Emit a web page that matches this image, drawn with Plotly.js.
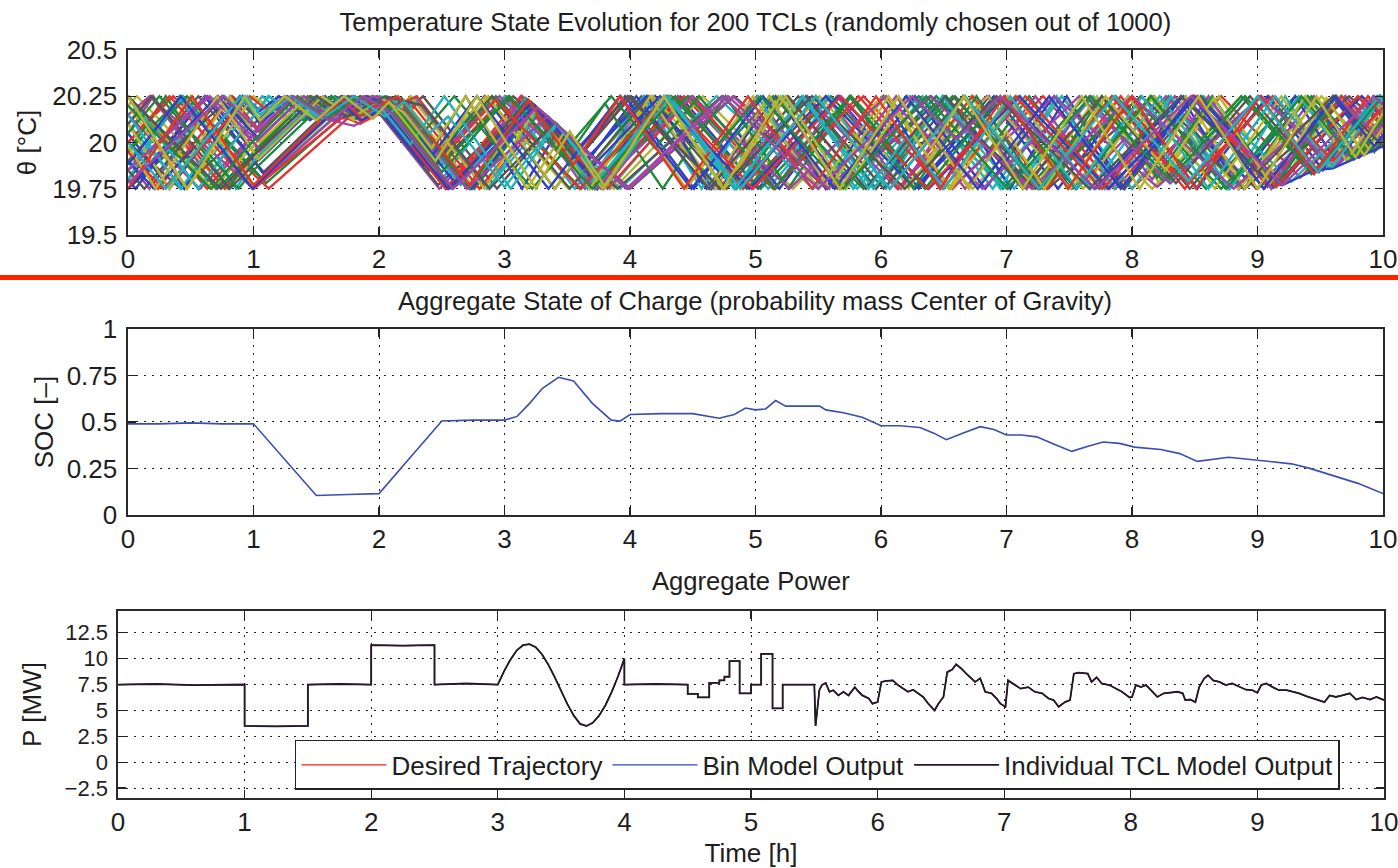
<!DOCTYPE html>
<html>
<head>
<meta charset="utf-8">
<script src="https://cdn.plot.ly/plotly-3.0.1.min.js"></script>
<style>
html,body{margin:0;padding:0;background:#fff;}
#chart{width:1398px;height:868px;}
</style>
</head>
<body>
<div id="chart"></div>
<script>
// ---------- tick labels ----------
const timeTicks = [0,1,2,3,4,5,6,7,8,9,10];
const tempTicks = [19.5,19.75,20,20.25,20.5];
const tempTickText = ['19.5','19.75','20','20.25','20.5'];
const socTicks = [0,0.25,0.5,0.75,1];
const socTickText = ['0','0.25','0.5','0.75','1'];
const powerTicks = [-2.5,0,2.5,5,7.5,10,12.5];
const powerTickText = ['\u22122.5','0','2.5','5','7.5','10','12.5'];

// ---------- TCL temperature trajectories (turning points: time h / temperature °C) ----------
const tcl01t=[0,0.63,1.05,1.57,1.75,2.0,2.55,3.16,3.77,4.4,5.02,5.65,6.27,6.9,7.52,8.15,8.77,9.4,9.81,10];
const tcl01v=[19.75,20.25,19.91,20.25,20.13,20.22,19.75,20.24,19.75,20.25,19.75,20.25,19.75,20.25,19.75,20.25,19.75,20.25,19.92,20.07];
const tcl02t=[0,0.56,1.12,1.4,1.65,1.85,2.05,2.12,2.18,2.76,3.25,3.74,4.3,4.85,5.41,5.96,6.52,6.85,7.18,7.74,8.29,8.85,9.4,9.77,10];
const tcl02v=[20.25,19.75,20.25,20.12,20.25,20.15,20.24,20.19,20.24,19.75,20.19,19.75,20.25,19.75,20.25,19.75,20.25,19.95,20.25,19.75,20.25,19.75,20.25,19.91,20.12];
const tcl03t=[0,0.36,1.12,1.75,1.85,2.05,2.45,3.01,3.72,4.43,5.14,5.86,6.57,7.29,8.0,8.71,9.34,9.97,10];
const tcl03v=[20.0,20.25,19.75,20.13,20.1,20.2,19.86,20.25,19.75,20.25,19.75,20.25,19.75,20.25,19.75,20.25,19.81,20.25,20.23];
const tcl04t=[0,0.44,1.07,1.3,1.5,1.75,2.0,2.1,2.2,2.3,2.86,3.35,3.84,4.47,5.1,5.45,5.81,6.44,7.06,7.69,8.31,8.9,9.43,9.95,10];
const tcl04v=[20.1,19.75,20.25,20.12,20.25,20.15,20.25,20.24,20.17,20.23,19.75,20.14,19.75,20.25,19.75,20.03,19.75,20.25,19.75,20.25,19.78,20.25,19.83,20.25,20.21];
const tcl05t=[0,0.17,0.72,1.05,1.51,1.7,1.95,2.05,2.15,2.73,3.23,3.73,4.29,4.65,5.01,5.56,6.12,6.67,7.23,7.78,8.34,8.89,9.45,9.81,10];
const tcl05v=[19.9,19.75,20.25,19.95,20.25,20.14,20.25,20.18,20.24,19.75,20.2,19.75,20.25,19.93,20.25,19.75,20.25,19.75,20.25,19.75,20.25,19.75,20.25,19.92,20.09];
const tcl06t=[0,0.07,0.78,1.5,1.8,2.0,2.53,3.2,3.87,4.58,5.3,6.01,6.73,7.44,8.16,8.87,9.46,10];
const tcl06v=[20.2,20.25,19.75,20.25,20.12,20.2,19.75,20.22,19.75,20.25,19.75,20.25,19.75,20.25,19.75,20.25,19.84,20.22];
const tcl07t=[0,0.56,1.08,1.71,1.88,2.08,2.2,2.35,2.94,3.39,3.65,4.09,4.71,5.34,5.96,6.59,7.21,7.84,8.46,9.09,9.57,10];
const tcl07v=[19.8,20.25,19.84,20.25,20.16,20.24,20.16,20.25,19.75,20.11,19.9,20.25,19.75,20.25,19.75,20.25,19.75,20.25,19.75,20.25,19.86,20.2];
const tcl08t=[0,0.33,0.89,1.05,1.27,1.55,1.8,2.02,2.4,2.84,3.4,3.96,4.51,4.85,5.19,5.75,6.3,6.86,7.41,7.97,8.52,9.08,9.52,9.96,10];
const tcl08v=[20.05,19.75,20.25,20.11,20.25,20.13,20.25,20.17,19.85,20.25,19.75,20.25,19.75,20.06,19.75,20.25,19.75,20.25,19.75,20.25,19.75,20.25,19.85,20.25,20.21];
const tcl09t=[0,0.43,1.07,1.76,1.92,2.1,2.45,2.9,3.61,4.33,5.04,5.76,6.1,6.44,7.16,7.87,8.59,9.3,9.78,10];
const tcl09v=[19.95,20.25,19.8,20.25,20.18,20.24,19.94,20.25,19.75,20.25,19.75,20.25,20.01,20.25,19.75,20.25,19.75,20.25,19.92,20.07];
const tcl10t=[0,0.63,1.25,1.5,1.72,1.95,2.12,2.22,2.32,2.85,3.33,3.6,4.0,4.63,5.25,5.88,6.5,7.13,7.5,7.87,8.5,9.1,9.7,10];
const tcl10v=[20.25,19.75,20.25,20.13,20.25,20.14,20.22,20.15,20.22,19.77,20.15,19.93,20.25,19.75,20.25,19.75,20.25,19.75,20.05,19.75,20.25,19.77,20.25,20.01];
const tcl11t=[0,0.44,1.0,1.78,1.9,2.03,2.5,3.0,3.56,4.11,4.67,5.22,5.78,6.33,6.89,7.44,8.0,8.55,9.11,9.67,10];
const tcl11v=[19.85,20.25,19.75,20.22,20.15,20.2,19.8,20.25,19.75,20.25,19.75,20.25,19.75,20.25,19.75,20.25,19.75,20.25,19.75,20.25,19.99];
const tcl12t=[0,0.57,1.31,1.55,1.78,2.0,2.48,3.17,3.55,3.99,4.7,5.41,6.13,6.84,7.56,8.27,8.99,9.7,10];
const tcl12v=[20.15,19.75,20.25,20.14,20.25,20.16,19.75,20.23,19.95,20.25,19.75,20.25,19.75,20.25,19.75,20.25,19.75,20.25,20.04];
const tcl13t=[0,0.5,1.0,1.7,1.85,2.05,2.12,2.2,2.75,3.21,3.68,4.18,4.68,5.18,5.68,5.95,6.22,6.72,7.22,7.72,8.22,8.69,9.19,9.66,9.95,10];
const tcl13v=[19.75,20.25,19.75,20.2,20.12,20.22,20.16,20.23,19.76,20.22,19.75,20.25,19.75,20.25,19.75,20.02,19.75,20.25,19.75,20.25,19.78,20.25,19.78,20.25,19.96,20.01];
const tcl14t=[0,0.42,1.25,1.5,1.75,2.02,2.47,3.21,4.0,4.83,5.67,6.5,7.33,8.17,9.0,9.83,10];
const tcl14v=[20.0,19.75,20.25,20.15,20.25,20.15,19.77,20.22,19.75,20.25,19.75,20.25,19.75,20.25,19.75,20.25,20.15];
const tcl15t=[0,0.45,0.91,1.05,1.3,1.55,1.8,2.0,2.35,2.69,3.14,3.44,3.74,4.2,4.65,5.11,5.56,6.02,6.47,6.75,7.03,7.48,7.94,8.39,8.85,9.3,9.64,9.98,10];
const tcl15v=[20.25,19.75,20.25,20.1,20.25,20.12,20.25,20.18,19.88,20.25,19.75,20.08,19.75,20.25,19.75,20.25,19.75,20.25,19.75,20.06,19.75,20.25,19.75,20.25,19.75,20.25,19.88,20.25,20.23];
const tcl16t=[0,0.47,1.1,1.8,1.9,2.12,2.48,2.93,3.6,4.27,4.93,5.6,5.95,6.3,6.97,7.63,8.25,8.87,9.43,10];
const tcl16v=[19.9,20.25,19.78,20.2,20.15,20.22,19.91,20.25,19.75,20.25,19.75,20.25,19.99,20.25,19.75,20.25,19.79,20.25,19.83,20.25];
const tcl17t=[0,0.18,0.77,1.43,1.65,1.9,2.05,2.15,2.25,2.8,3.29,3.79,4.38,4.97,5.56,6.14,6.73,7.32,7.91,8.2,8.5,9.08,9.67,10];
const tcl17v=[20.1,20.25,19.75,20.25,20.12,20.25,20.2,20.14,20.22,19.75,20.17,19.75,20.25,19.75,20.25,19.75,20.25,19.75,20.25,20.0,20.25,19.76,20.25,19.97];
const tcl18t=[0,0.77,1.05,1.35,1.6,1.85,2.08,2.55,3.23,3.92,4.69,5.46,6.23,7.0,7.4,7.8,8.57,9.27,9.98,10];
const tcl18v=[19.75,20.25,20.07,20.25,20.13,20.25,20.16,19.76,20.2,19.75,20.25,19.75,20.25,19.75,20.01,19.75,20.25,19.79,20.25,20.24];
const tcl19t=[0,0.2,0.7,1.2,1.45,1.7,1.95,2.05,2.15,2.28,2.74,3.14,3.64,4.14,4.64,4.9,5.16,5.66,6.16,6.66,7.16,7.66,8.16,8.61,9.11,9.61,9.91,10];
const tcl19v=[20.05,20.25,19.75,20.25,20.13,20.25,20.13,20.2,20.13,20.24,19.85,20.25,19.75,20.25,19.75,20.01,19.75,20.25,19.75,20.25,19.75,20.25,19.8,20.25,19.75,20.25,19.95,20.04];
const tcl20t=[0,0.67,1.38,1.62,1.88,2.1,2.42,2.85,3.51,4.18,4.85,5.51,6.18,6.85,7.51,8.18,8.85,9.51,9.91,10];
const tcl20v=[20.25,19.75,20.25,20.14,20.25,20.2,19.93,20.25,19.75,20.25,19.75,20.25,19.75,20.25,19.75,20.25,19.75,20.25,19.95,20.02];
const tcl21t=[0,0.83,1.05,1.3,1.55,1.8,2.1,2.42,3.07,3.9,4.73,5.57,6.4,7.23,8.07,8.9,9.73,10];
const tcl21v=[19.75,20.25,20.12,20.25,20.14,20.25,20.13,19.86,20.25,19.75,20.25,19.75,20.25,19.75,20.25,19.75,20.25,20.09];
const tcl22t=[0,0.06,0.61,1.08,1.75,1.88,2.02,2.1,2.18,2.74,3.24,3.62,4.05,4.61,5.16,5.72,6.27,6.83,7.38,7.94,8.49,9.05,9.6,9.93,10];
const tcl22v=[19.8,19.75,20.25,19.83,20.23,20.16,20.22,20.16,20.23,19.75,20.2,19.86,20.25,19.75,20.25,19.75,20.25,19.75,20.25,19.75,20.25,19.75,20.25,19.95,20.01];
const tcl23t=[0,0.71,1.46,1.7,1.95,2.15,2.5,3.03,3.74,4.46,4.8,5.14,5.86,6.57,7.29,8.0,8.71,9.43,9.87,10];
const tcl23v=[20.25,19.75,20.25,20.14,20.25,20.18,19.88,20.25,19.75,20.25,20.01,20.25,19.75,20.25,19.75,20.25,19.75,20.25,19.94,20.03];
const tcl24t=[0,0.24,0.82,1.05,1.35,1.6,1.85,2.0,2.53,3.13,3.72,4.31,4.9,5.48,6.07,6.66,7.25,7.84,8.42,9.01,9.49,9.97,10];
const tcl24v=[19.95,19.75,20.25,20.06,20.25,20.13,20.25,20.2,19.75,20.25,19.75,20.25,19.75,20.25,19.75,20.25,19.75,20.25,19.75,20.25,19.84,20.25,20.22];
const tcl25t=[0,0.41,0.86,1.0,1.52,1.72,1.98,2.08,2.18,2.3,2.88,3.27,3.66,4.11,4.57,5.02,5.3,5.58,6.04,6.49,6.95,7.4,7.86,8.31,8.77,9.22,9.57,9.92,10];
const tcl25v=[19.8,20.25,19.75,19.9,20.24,20.14,20.25,20.22,20.14,20.24,19.75,20.18,19.75,20.25,19.75,20.25,19.94,20.25,19.75,20.25,19.75,20.25,19.75,20.25,19.75,20.25,19.86,20.25,20.16];
const tcl26t=[0,0.17,1.0,1.62,1.8,2.05,2.56,3.27,3.99,4.82,5.65,6.1,6.55,7.38,8.2,9.03,9.64,10];
const tcl26v=[20.15,20.25,19.75,20.12,20.09,20.18,19.75,20.18,19.75,20.25,19.75,20.02,19.75,20.25,19.76,20.25,19.88,20.1];
const tcl27t=[0,0.47,1.0,1.25,1.5,1.78,2.0,2.45,2.87,3.4,3.93,4.45,4.98,5.5,6.03,6.56,7.08,7.61,8.14,8.66,9.19,9.59,10];
const tcl27v=[20.2,19.75,20.25,20.13,20.25,20.14,20.23,19.85,20.25,19.75,20.25,19.75,20.25,19.75,20.25,19.75,20.25,19.75,20.25,19.75,20.25,19.87,20.24];
const tcl28t=[0,0.13,0.75,1.06,1.45,1.68,1.95,2.12,2.45,2.9,3.52,4.15,4.77,5.4,6.02,6.65,7.27,7.6,7.93,8.55,9.18,9.8,10];
const tcl28v=[19.85,19.75,20.25,20.0,20.25,20.12,20.25,20.17,19.89,20.25,19.75,20.25,19.75,20.25,19.75,20.25,19.75,20.01,19.75,20.25,19.77,20.25,20.09];
const tcl29t=[0,0.21,0.93,1.05,1.2,1.45,1.7,1.95,2.1,2.62,3.24,3.65,4.13,4.84,5.56,6.27,6.99,7.7,8.41,9.13,9.83,10];
const tcl29v=[19.9,19.75,20.25,20.17,20.25,20.12,20.25,20.15,20.21,19.77,20.2,19.91,20.25,19.75,20.25,19.75,20.25,19.75,20.25,19.76,20.25,20.13];
const tcl30t=[0,0.3,0.8,1.0,1.45,1.65,1.92,2.05,2.13,2.72,3.19,3.5,3.8,4.26,4.76,5.26,5.76,6.26,6.76,7.26,7.76,8.2,8.64,9.14,9.63,9.93,10];
const tcl30v=[19.95,20.25,19.75,19.95,20.25,20.12,20.25,20.19,20.25,19.75,20.22,19.92,20.21,19.75,20.25,19.75,20.25,19.75,20.25,19.75,20.25,19.81,20.25,19.76,20.25,19.95,20.02];
const tcl31t=[0,0.33,1.0,1.75,1.87,2.05,2.54,3.18,3.82,4.49,5.15,5.82,6.49,7.15,7.82,8.49,9.15,9.8,10];
const tcl31v=[20.0,20.25,19.75,20.16,20.11,20.17,19.75,20.23,19.75,20.25,19.75,20.25,19.75,20.25,19.75,20.25,19.76,20.25,20.1];
const tcl32t=[0,0.56,1.12,1.38,1.62,1.9,2.1,2.65,3.17,3.72,4.27,4.83,5.38,5.94,6.49,6.8,7.11,7.67,8.22,8.78,9.33,9.72,10];
const tcl32v=[20.25,19.75,20.25,20.13,20.25,20.14,20.24,19.77,20.24,19.75,20.25,19.75,20.25,19.75,20.25,19.97,20.25,19.75,20.25,19.75,20.25,19.9,20.15];
const tcl33t=[0,0.62,1.06,1.5,1.72,1.98,2.15,2.47,2.96,3.73,4.5,5.27,6.04,6.81,7.58,8.3,9.03,9.61,10];
const tcl33v=[19.85,20.25,19.96,20.25,20.13,20.25,20.2,19.93,20.25,19.75,20.25,19.75,20.25,19.75,20.25,19.78,20.25,19.87,20.12];
const tcl34t=[0,0.33,0.81,1.05,1.42,1.66,1.92,2.02,2.12,2.25,2.84,3.26,3.68,4.16,4.63,5.11,5.59,6.06,6.54,7.01,7.49,7.97,8.2,8.43,8.9,9.38,9.71,10];
const tcl34v=[20.1,19.75,20.25,20.0,20.24,20.13,20.25,20.22,20.15,20.25,19.75,20.19,19.75,20.25,19.75,20.25,19.75,20.25,19.75,20.25,19.75,20.25,20.01,20.25,19.75,20.25,19.9,20.2];
const tcl35t=[0,0.19,0.81,1.5,1.72,1.96,2.03,2.58,3.18,3.58,4.01,4.63,5.26,5.88,6.51,7.13,7.76,8.35,8.94,9.46,9.97,10];
const tcl35v=[20.1,20.25,19.75,20.22,20.14,20.24,20.22,19.75,20.23,19.91,20.25,19.75,20.25,19.75,20.25,19.75,20.25,19.78,20.25,19.84,20.25,20.23];
const tcl36t=[0,0.71,1.04,1.4,1.65,1.9,2.0,2.55,3.21,3.7,4.24,4.95,5.67,6.38,7.1,7.81,8.52,9.2,9.45,9.6,10];
const tcl36v=[19.75,20.25,20.02,20.25,20.12,20.25,20.22,19.75,20.21,19.87,20.25,19.75,20.25,19.75,20.25,19.75,20.25,19.77,19.85,19.86,19.98];
const tcl37t=[0,0.25,0.88,1.0,1.62,1.82,2.08,2.32,2.6,3.22,3.85,4.2,4.55,5.15,5.75,6.35,6.95,7.55,8.15,8.75,9.35,9.75,10];
const tcl37v=[20.05,20.25,19.75,19.85,20.25,20.13,20.23,20.03,20.25,19.75,20.25,19.97,20.25,19.75,20.25,19.75,20.25,19.75,20.25,19.75,20.25,19.92,20.13];
const tcl38t=[0,0.28,0.97,1.1,1.3,1.55,1.8,2.05,2.3,2.6,2.93,3.6,4.29,4.98,5.68,6.37,7.07,7.76,8.1,8.45,9.12,9.6,10];
const tcl38v=[19.95,19.75,20.25,20.18,20.25,20.13,20.25,20.17,20.25,19.99,20.23,19.75,20.25,19.75,20.25,19.75,20.25,19.75,19.99,19.78,20.25,19.9,20.19];
const tcl39t=[0,0.42,0.95,1.05,1.25,1.5,1.72,1.95,2.0,2.25,2.52,3.05,3.42,3.79,4.32,4.84,5.37,5.9,6.2,6.5,7.03,7.56,8.08,8.61,9.14,9.6,10];
const tcl39v=[20.15,19.75,20.25,20.15,20.25,20.14,20.25,20.16,20.2,19.99,20.25,19.75,20.1,19.75,20.25,19.75,20.25,19.75,20.03,19.75,20.25,19.75,20.25,19.75,20.25,19.87,20.25];
const tcl40t=[0,0.65,1.03,1.4,1.65,1.95,2.2,2.7,3.34,3.97,4.78,5.58,6.39,7.2,8.0,8.81,9.62,10];
const tcl40v=[19.85,20.25,20.01,20.25,20.12,20.25,20.17,19.75,20.14,19.75,20.25,19.75,20.25,19.75,20.25,19.75,20.25,20.01];
const tcl41t=[0,0.22,0.71,1.04,1.55,1.78,2.02,2.2,2.42,2.69,3.18,3.48,3.78,4.27,4.75,5.24,5.72,6.21,6.7,7.0,7.3,7.79,8.27,8.65,9.1,9.55,9.85,10];
const tcl41v=[19.98,19.75,20.25,19.91,20.25,20.13,20.24,20.16,19.97,20.25,19.75,20.06,19.75,20.25,19.75,20.25,19.75,20.25,19.75,20.06,19.75,20.25,19.85,20.24,19.78,20.24,19.93,20.08];
const tcl42t=[0,0.74,1.0,1.5,1.75,2.05,2.35,2.88,3.4,3.6,3.98,4.72,5.45,6.19,6.92,7.66,8.39,9.0,9.6,10];
const tcl42v=[20.25,19.75,19.93,20.25,20.14,20.25,20.2,19.75,20.11,19.97,20.25,19.75,20.25,19.75,20.25,19.75,20.25,19.84,20.25,19.98];
const tcl43t=[0,0.42,0.99,1.7,1.86,2.06,2.4,2.78,3.35,3.92,4.49,5.06,5.63,6.2,6.77,7.34,7.91,8.48,9.05,9.62,9.93,10];
const tcl43v=[19.88,20.25,19.75,20.21,20.12,20.2,19.91,20.25,19.75,20.25,19.75,20.25,19.75,20.25,19.75,20.25,19.75,20.25,19.75,20.25,19.98,20.04];
const tcl44t=[0,0.66,1.0,1.35,1.58,1.85,2.1,2.5,3.04,3.7,4.36,4.7,5.04,5.7,6.36,7.01,7.67,8.3,8.9,9.45,10];
const tcl44v=[20.2,19.75,20.01,20.25,20.13,20.25,20.18,19.84,20.25,19.75,20.25,19.99,20.25,19.75,20.25,19.75,20.25,19.8,20.25,19.83,20.25];
const tcl45t=[0,0.51,1.0,1.7,1.85,2.0,2.15,2.72,3.19,3.55,3.92,4.43,4.94,5.45,5.96,6.47,6.98,7.49,8.0,8.51,9.02,9.45,9.88,10];
const tcl45v=[19.75,20.25,19.77,20.23,20.14,20.2,20.25,19.77,20.23,19.88,20.25,19.75,20.25,19.75,20.25,19.75,20.25,19.75,20.25,19.75,20.25,19.83,20.25,20.13];
const tcl46t=[0,0.3,0.9,1.05,1.3,1.55,1.8,2.05,2.2,2.4,2.55,3.0,3.41,3.76,4.29,4.88,5.48,6.07,6.67,7.26,7.86,8.45,9.0,9.48,9.97,10];
const tcl46v=[20.0,19.75,20.25,20.12,20.25,20.13,20.25,20.14,20.22,20.05,20.14,19.76,20.1,19.81,20.25,19.75,20.25,19.75,20.25,19.75,20.25,19.79,20.25,19.84,20.25,20.22];
const tcl47t=[0,0.76,1.04,1.32,1.6,1.88,2.12,2.59,3.26,3.98,4.74,5.5,6.25,6.6,6.95,7.71,8.47,9.2,9.93,10];
const tcl47v=[19.78,20.25,20.06,20.25,20.12,20.25,20.15,19.75,20.19,19.75,20.25,19.75,20.25,20.02,20.25,19.75,20.25,19.77,20.25,20.2];
const tcl48t=[0,0.47,0.93,1.05,1.25,1.5,1.72,1.95,2.08,2.45,2.78,3.25,3.52,3.8,4.27,4.74,5.2,5.67,6.14,6.4,6.66,7.13,7.6,8.06,8.53,9.0,9.47,9.78,10];
const tcl48v=[20.25,19.75,20.25,20.12,20.25,20.12,20.25,20.13,20.22,19.9,20.25,19.75,20.06,19.76,20.25,19.75,20.25,19.75,20.25,19.97,20.25,19.75,20.25,19.75,20.25,19.75,20.25,19.92,20.16];

// ---------- aggregate state of charge ----------
const socT=[0,0.25,0.5,0.75,1.0,1.25,1.5,1.75,2.0,2.25,2.5,2.75,3.0,3.1,3.2,3.3,3.43,3.55,3.7,3.85,3.92,4.0,4.25,4.5,4.6,4.71,4.83,4.92,5.0,5.08,5.16,5.24,5.4,5.51,5.56,5.7,5.85,6.0,6.15,6.31,6.42,6.52,6.65,6.79,6.9,7.0,7.12,7.24,7.38,7.52,7.65,7.77,7.9,8.02,8.23,8.38,8.52,8.65,8.77,9.02,9.27,9.41,9.63,9.8,10];
const socV=[0.49,0.49,0.495,0.49,0.49,0.3,0.105,0.11,0.115,0.31,0.505,0.51,0.51,0.53,0.6,0.68,0.74,0.72,0.6,0.51,0.505,0.54,0.545,0.545,0.535,0.52,0.54,0.575,0.565,0.57,0.615,0.585,0.585,0.585,0.565,0.55,0.525,0.48,0.48,0.47,0.44,0.405,0.44,0.475,0.46,0.43,0.43,0.42,0.38,0.342,0.37,0.392,0.385,0.365,0.352,0.33,0.288,0.3,0.31,0.293,0.275,0.252,0.207,0.17,0.115];

// ---------- aggregate power (MW) ----------
const powerT=[0,0.3,0.6,1.0,1.0,1.25,1.5,1.5,1.75,2.0,2.0,2.25,2.5,2.5,2.75,3.0,
3.05,3.1,3.15,3.2,3.25,3.3,3.35,3.4,3.45,3.5,3.55,3.6,3.65,3.7,3.75,3.8,3.85,3.9,3.95,4.0,
4.0,4.25,4.5,4.5,4.58,4.58,4.67,4.67,4.75,4.75,4.79,4.79,4.83,4.83,4.91,4.91,5.0,5.0,5.08,5.08,5.17,5.17,5.25,5.25,5.5,5.51,
5.54,5.56,5.59,5.62,5.65,5.69,5.73,5.77,5.82,5.85,5.88,5.93,5.96,6.0,6.03,6.07,6.12,6.16,6.2,6.24,6.28,6.32,6.36,6.4,6.45,6.48,6.52,6.55,6.59,6.62,6.66,6.7,6.74,6.77,6.81,6.85,6.9,6.94,6.97,7.01,7.03,7.07,7.13,7.19,7.24,7.3,7.35,7.39,7.43,7.48,7.52,7.55,7.59,7.66,7.69,7.73,7.77,7.83,7.88,7.93,7.99,8.01,8.04,8.08,8.12,8.16,8.21,8.26,8.32,8.37,8.41,8.43,8.47,8.51,8.54,8.58,8.61,8.65,8.7,8.75,8.8,8.86,8.91,8.96,9.0,9.03,9.07,9.12,9.17,9.23,9.28,9.33,9.39,9.44,9.49,9.53,9.57,9.62,9.67,9.73,9.78,9.83,9.89,9.94,10];
const desiredP=[7.5,7.55,7.45,7.5,3.5,3.45,3.5,7.5,7.55,7.5,11.3,11.25,11.3,7.5,7.6,7.5,
8.8,9.9,10.8,11.3,11.4,11.1,10.4,9.4,8.2,6.9,5.6,4.5,3.7,3.5,3.8,4.5,5.5,6.8,8.3,10.0,
7.5,7.55,7.5,6.6,6.6,6.25,6.25,7.65,7.65,7.9,7.9,8.25,8.25,9.75,9.75,6.65,6.65,7.5,7.5,10.45,10.45,5.2,5.2,7.5,7.5,3.5,
6.95,7.45,7.65,6.8,6.95,6.45,6.8,6.45,7.25,6.8,6.45,6.15,5.65,5.8,7.75,7.85,7.9,7.45,7.1,6.8,7.0,6.65,6.3,5.65,5.0,5.65,6.3,8.7,8.95,9.45,9.05,8.55,8.1,7.75,8.1,6.8,6.65,6.15,5.65,5.35,7.9,7.6,7.1,7.25,6.8,6.65,6.15,6.0,5.35,5.8,6.0,8.55,8.65,8.55,7.75,8.2,7.6,7.45,7.1,6.8,6.25,6.3,7.45,7.25,7.45,6.95,6.3,6.65,6.7,6.8,6.65,6.0,6.05,5.8,7.25,8.1,8.4,7.9,7.75,7.45,7.6,7.25,7.0,6.95,6.7,7.45,7.6,7.25,6.95,6.95,6.8,6.65,6.35,6.15,6.0,5.8,6.45,6.3,6.45,6.65,6.05,6.25,6.05,6.3,6.0];
const seriesNames=['Desired Trajectory','Bin Model Output','Individual TCL Model Output'];

// ---------- styling ----------
const FONT='"Liberation Sans", Arial, Helvetica, sans-serif';
const TXT='#1e1e1e';
const lineColors=['#2f3fc6','#1d8a3a','#e8302c','#1fb2bd','#a046a6','#b8b52a','#555555'];

const tclT=[tcl01t,tcl02t,tcl03t,tcl04t,tcl05t,tcl06t,tcl07t,tcl08t,tcl09t,tcl10t,tcl11t,tcl12t,tcl13t,tcl14t,tcl15t,tcl16t,tcl17t,tcl18t,tcl19t,tcl20t,tcl21t,tcl22t,tcl23t,tcl24t,tcl25t,tcl26t,tcl27t,tcl28t,tcl29t,tcl30t,tcl31t,tcl32t,tcl33t,tcl34t,tcl35t,tcl36t,tcl37t,tcl38t,tcl39t,tcl40t,tcl41t,tcl42t,tcl43t,tcl44t,tcl45t,tcl46t,tcl47t,tcl48t];
const tclV=[tcl01v,tcl02v,tcl03v,tcl04v,tcl05v,tcl06v,tcl07v,tcl08v,tcl09v,tcl10v,tcl11v,tcl12v,tcl13v,tcl14v,tcl15v,tcl16v,tcl17v,tcl18v,tcl19v,tcl20v,tcl21v,tcl22v,tcl23v,tcl24v,tcl25v,tcl26v,tcl27v,tcl28v,tcl29v,tcl30v,tcl31v,tcl32v,tcl33v,tcl34v,tcl35v,tcl36v,tcl37v,tcl38v,tcl39v,tcl40v,tcl41v,tcl42v,tcl43v,tcl44v,tcl45v,tcl46v,tcl47v,tcl48v];

const traces=[];
tclT.forEach((t,i)=>{
  traces.push({x:t,y:tclV[i],type:'scatter',mode:'lines',xaxis:'x',yaxis:'y',
    line:{color:lineColors[i%lineColors.length],width:2.4},showlegend:false,hoverinfo:'skip'});
});
traces.push({x:socT,y:socV,type:'scatter',mode:'lines',xaxis:'x2',yaxis:'y2',
  line:{color:'#3b4db3',width:1.6},showlegend:false,hoverinfo:'skip'});
traces.push({x:powerT,y:desiredP,type:'scatter',mode:'lines',xaxis:'x3',yaxis:'y3',name:seriesNames[0],
  line:{color:'#ff1a1a',width:1.2}});
traces.push({x:powerT,y:desiredP,type:'scatter',mode:'lines',xaxis:'x3',yaxis:'y3',name:seriesNames[1],
  line:{color:'#2f45c8',width:1.2}});
traces.push({x:powerT,y:desiredP,type:'scatter',mode:'lines',xaxis:'x3',yaxis:'y3',name:seriesNames[2],
  line:{color:'#231a24',width:1.8}});

function xAx(domain,anchor,extra){
  return Object.assign({domain:domain,anchor:anchor,range:[0,10],tickvals:timeTicks,ticktext:timeTicks.map(String),
    ticks:'inside',ticklen:8,tickwidth:1.3,tickcolor:'#222',showline:true,linecolor:'#2a2a2a',linewidth:1.6,mirror:'ticks',
    showgrid:true,gridcolor:'#222',gridwidth:1,griddash:'2px,6px',zeroline:false,
    tickfont:{family:FONT,size:26,color:TXT},ticklabelstandoff:0,ticklabeloverflow:'allow',automargin:false,fixedrange:true},extra||{});
}
function yAx(domain,anchor,range,vals,text,title,standoff,fs){
  return {domain:domain,anchor:anchor,range:range,tickvals:vals,ticktext:text,
    ticks:'inside',ticklen:8,tickwidth:1.3,tickcolor:'#222',showline:true,linecolor:'#2a2a2a',linewidth:1.6,mirror:'ticks',
    showgrid:true,gridcolor:'#222',gridwidth:1,griddash:'2px,6px',zeroline:false,
    tickfont:{family:FONT,size:fs,color:TXT},ticklabelstandoff:4,ticklabeloverflow:'allow',automargin:false,fixedrange:true,
    title:{text:title,font:{family:FONT,size:26,color:TXT},standoff:standoff}};
}

const layout={
  width:1398,height:868,
  margin:{l:0,r:0,t:0,b:0},
  paper_bgcolor:'#ffffff',plot_bgcolor:'#ffffff',
  font:{family:FONT,color:TXT,size:26},
  title:{text:'Temperature State Evolution for 200 TCLs (randomly chosen out of 1000)',
    font:{family:FONT,size:25.6,color:TXT},x:0.5404,xanchor:'center',y:0.9747,yanchor:'middle',xref:'paper',yref:'container'},
  xaxis:xAx([0.0916,0.9893],'y'),
  yaxis:yAx([0.7293,0.9424],'x',[19.5,20.5],tempTicks,tempTickText,'\u03b8 [\u00b0C]',8,26),
  xaxis2:xAx([0.0916,0.9893],'y2'),
  yaxis2:yAx([0.4067,0.6210],'x2',[0,1],socTicks,socTickText,'SOC [\u2013]',5,26),
  xaxis3:xAx([0.0844,0.9900],'y3',{title:{text:'Time [h]',font:{family:FONT,size:26,color:TXT},standoff:8}}),
  yaxis3:yAx([0.0806,0.2961],'x3',[-3.46,14.6],powerTicks,powerTickText,'P [MW]',15,22),
  annotations:[
    {text:'Aggregate State of Charge (probability mass Center of Gravity)',xref:'paper',yref:'paper',x:0.5404,y:0.6527,
      xanchor:'center',yanchor:'middle',showarrow:false,font:{family:FONT,size:25.6,color:TXT}},
    {text:'Aggregate Power',xref:'paper',yref:'paper',x:0.5372,y:0.3306,
      xanchor:'center',yanchor:'middle',showarrow:false,font:{family:FONT,size:25.6,color:TXT}}
  ],
  shapes:[
    {type:'line',xref:'paper',yref:'paper',x0:0,x1:1,y0:0.6803,y1:0.6803,line:{color:'#ff2200',width:5}}
  ],
  showlegend:true,
  legend:{orientation:'h',x:0.211,xanchor:'left',y:0.1475,yanchor:'top',bgcolor:'#ffffff',
    bordercolor:'#222',borderwidth:1.5,font:{family:FONT,size:26,color:TXT},itemwidth:85,traceorder:'normal'}
};

Plotly.newPlot('chart',traces,layout,{staticPlot:true,displayModeBar:false});
</script>
</body>
</html>
